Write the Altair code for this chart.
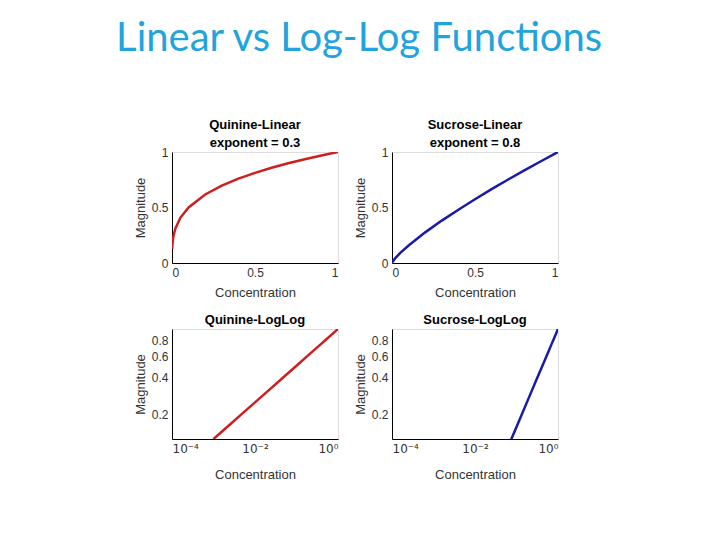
import altair as alt
import pandas as pd

# Values
concentration = [0.001, 0.002, 0.005, 0.01, 0.02, 0.05, 0.1, 0.2, 0.3, 0.4, 0.5, 0.6, 0.7, 0.8, 0.9, 1.0]
quinine_mag = [0.126, 0.155, 0.204, 0.251, 0.309, 0.407, 0.501, 0.617, 0.697, 0.760, 0.812, 0.858, 0.899, 0.935, 0.969, 1.0]
sucrose_mag = [0.004, 0.007, 0.014, 0.025, 0.044, 0.091, 0.158, 0.276, 0.382, 0.480, 0.574, 0.665, 0.752, 0.837, 0.919, 1.0]

panel_titles = [["Quinine-Linear", "exponent = 0.3"], ["Sucrose-Linear", "exponent = 0.8"],
                "Quinine-LogLog", "Sucrose-LogLog"]
lin_ticks = [0, 0.5, 1]
log_x_ticks = [1e-4, 1e-2, 1]
log_y_ticks = [0.2, 0.4, 0.6, 0.8]

df = pd.DataFrame({"Concentration": concentration, "Quinine": quinine_mag, "Sucrose": sucrose_mag})

RED = "#cc1f1f"
BLUE = "#1a1aa8"
TXT = "#333333"

def axis_common(label_font="Liberation Sans", label_size=11, **kw):
    return alt.Axis(grid=False, ticks=False, domainColor="black", labelColor=TXT, titleColor=TXT,
                    labelFont=label_font, titleFont="Liberation Sans", labelFontSize=label_size,
                    titleFontSize=13, titleFontWeight="normal", labelPadding=4, **kw)

def panel(title, col, color, log):
    if log:
        x = alt.X("Concentration:Q", scale=alt.Scale(type="log", domain=[1e-4, 1], nice=False),
                  axis=axis_common(label_font="DejaVu Sans", label_size=12, values=log_x_ticks, titlePadding=14,
                                   labelExpr="datum.value == 1 ? '10⁰' : datum.value < 0.001 ? '10⁻⁴' : '10⁻²'"))
        y = alt.Y(f"{col}:Q", title="Magnitude",
                  scale=alt.Scale(type="log", domain=[0.126, 1], nice=False),
                  axis=axis_common(label_size=12, values=log_y_ticks, format=".1f", titlePadding=4))
        h = 110
        off = 2
    else:
        x = alt.X("Concentration:Q", scale=alt.Scale(domain=[0, 1], nice=False),
                  axis=axis_common(label_size=12, values=lin_ticks, format="~g", titlePadding=8))
        y = alt.Y(f"{col}:Q", title="Magnitude", scale=alt.Scale(domain=[0, 1], nice=False),
                  axis=axis_common(label_size=12, values=lin_ticks, format="~g", titlePadding=4))
        h = 111
        off = -4
    return alt.Chart(df).mark_line(color=color, strokeWidth=2.5, clip=True).encode(
        x=x, y=y, order="Concentration:Q"
    ).properties(
        width=166, height=h,
        title=alt.TitleParams(title, font="Liberation Sans", fontSize=13, fontWeight="bold",
                              color="black", offset=off, lineHeight=18),
    )

top = alt.hconcat(panel(panel_titles[0], "Quinine", RED, False),
                  panel(panel_titles[1], "Sucrose", BLUE, False), spacing=14)
bottom = alt.hconcat(panel(panel_titles[2], "Quinine", RED, True),
                     panel(panel_titles[3], "Sucrose", BLUE, True), spacing=14)

chart = alt.vconcat(top, bottom, spacing=13).properties(
    title=alt.TitleParams("Linear vs Log-Log Functions", font="Lato", fontSize=40,
                          fontWeight="normal", color="#22a3dd", anchor="middle", offset=60, dx=13),
    padding={"left": 107, "top": 10, "right": 5, "bottom": 5},
).configure_view(stroke="black", strokeWidth=1).configure(background="white")

chart.save("out.html", embed_options={"renderer": "svg", "actions": False})
